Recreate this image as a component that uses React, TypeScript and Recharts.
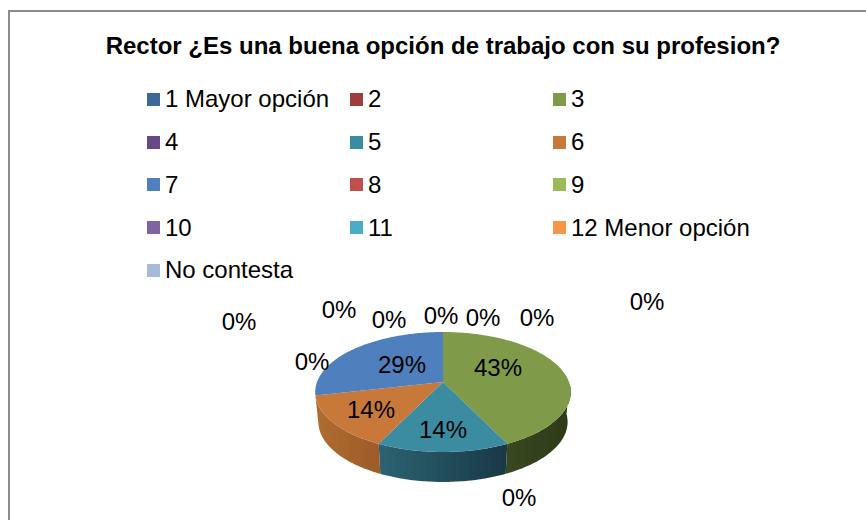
import { PieChart, Pie, Cell, Legend } from "recharts";

const NAMES = ["1 Mayor opción", "2", "3", "4", "5", "6", "7", "8", "9", "10", "11", "12 Menor opción", "No contesta"];
const VALUES = [0, 0, 3, 0, 1, 1, 2, 0, 0, 0, 0, 0, 0];
const COLORS = ["#3f6797", "#9e3d3a", "#7f9a48", "#664a83", "#3b8ba1", "#c8793a", "#4f7fbc", "#c0504d", "#9bbb59", "#8064a2", "#4bacc6", "#f79646", "#a9b9d8"];
const TITLE = "Rector ¿Es una buena opción de trabajo con su profesion?";

// side wall shading, left to right
const WALLS: Record<string, [string, string]> = {
  "#7f9a48": ["#38481f", "#2d3a18"],
  "#3b8ba1": ["#2b6373", "#193844"],
  "#c8793a": ["#b06c30", "#9c5b28"],
};
// hand placed in the original, so kept by slice
const LABEL_SPOTS = [
  [537, 317], [647, 301], [498, 367], [519, 497], [443, 429], [371, 409], [402, 364],
  [483, 317], [441, 315], [389, 319], [339, 309], [312, 361], [239, 321],
];

const FONT = "'Liberation Sans', Arial, sans-serif";
const data = NAMES.map((name, i) => ({ name, value: VALUES[i] }));

// fake 3D: project the flat pie circle onto a tilted disc
const SQUASH = 58.3, PERSP = 1 / 6, DEPTH = 30;
const project = (cx: number, cy: number, r: number, deg: number, f = 1): [number, number] => {
  const a = (deg * Math.PI) / 180;
  const X = Math.cos(a) * f, Z = -Math.sin(a) * f;
  const w = 1 - PERSP * Z;
  return [cx + (r * X) / w, cy + (SQUASH * Z) / w];
};
const arc = (cx: number, cy: number, r: number, from: number, to: number) => {
  const pts: [number, number][] = [];
  const n = Math.max(1, Math.ceil(Math.abs(from - to)));
  for (let i = 0; i <= n; i++) pts.push(project(cx, cy, r, from + ((to - from) * i) / n));
  return pts;
};
const toPath = (pts: [number, number][]) => pts.map((p, i) => (i ? "L" : "M") + p[0].toFixed(1) + " " + p[1].toFixed(1)).join(" ");

function Slice3D(props: any) {
  const { cx, cy, outerRadius: r, startAngle, endAngle, fill } = props;
  if (Math.abs(startAngle - endAngle) < 0.01) return <g />;
  const rim = arc(cx, cy, r, startAngle, endAngle);
  const top = toPath([[cx, cy], ...rim]) + " Z";
  // only the front of the disc shows a wall (-2 to -168 degrees)
  const from = Math.min(startAngle, -2), to = Math.max(endAngle, -168);
  let wall = null;
  if (from > to && WALLS[fill]) {
    const upper = arc(cx, cy, r, from, to);
    const lower = upper.map(([x, y]) => [cx + (x - cx) * 0.975, y + DEPTH] as [number, number]).reverse();
    const id = "wall" + fill.slice(1);
    wall = (
      <>
        <defs>
          <linearGradient id={id}>
            <stop offset="0%" stopColor={WALLS[fill][0]} />
            <stop offset="100%" stopColor={WALLS[fill][1]} />
          </linearGradient>
        </defs>
        <path d={toPath([...upper, ...lower]) + " Z"} fill={`url(#${id})`} />
      </>
    );
  }
  return (
    <g>
      {wall}
      <path d={top} fill={fill} />
    </g>
  );
}

function PctLabel({ index, percent }: any) {
  const [x, y] = LABEL_SPOTS[index];
  return (
    <text x={x} y={y} textAnchor="middle" dominantBaseline="central" fontSize={24} fontFamily={FONT} fill="#000">
      {Math.round(percent * 100) + "%"}
    </text>
  );
}

function LegendGrid({ payload }: any) {
  return (
    <div style={{ display: "grid", gridTemplateColumns: "203px 203px 203px", gridAutoRows: "42.75px", fontFamily: FONT, fontSize: 24, color: "#000" }}>
      {(payload || []).map((p: any) => (
        <div key={p.value} style={{ display: "flex", alignItems: "center", whiteSpace: "nowrap" }}>
          <span style={{ width: 13, height: 13, background: p.color, marginRight: 5, flex: "none" }} />
          {p.value}
        </div>
      ))}
    </div>
  );
}

export default function App() {
  return (
    <div style={{ position: "absolute", left: 0, top: 0, width: 866, height: 520, overflow: "hidden", background: "#fff" }}>
      <div style={{ position: "absolute", left: 8, top: 10, width: 858, height: 510, borderTop: "2px solid #8c8c8c", borderLeft: "2px solid #8c8c8c", boxSizing: "border-box" }} />
      <div style={{ position: "absolute", left: 0, top: 0 }}>
        <PieChart width={866} height={520} margin={{ top: 0, right: 0, bottom: 0, left: 0 }}>
          <text x={443} y={45} textAnchor="middle" dominantBaseline="central" fontSize={24} fontWeight="bold" fontFamily={FONT} fill="#000">
            {TITLE}
          </text>
          <Legend content={LegendGrid} itemSorter={null} wrapperStyle={{ left: 147, top: 78, width: 640, bottom: "auto" }} />
          <Pie
            data={data}
            dataKey="value"
            nameKey="name"
            cx={443}
            cy={382}
            outerRadius={126}
            startAngle={90}
            endAngle={-270}
            stroke="none"
            shape={Slice3D}
            label={PctLabel}
            labelLine={false}
            isAnimationActive={false}
          >
            {data.map((d, i) => (
              <Cell key={d.name} fill={COLORS[i]} />
            ))}
          </Pie>
        </PieChart>
      </div>
    </div>
  );
}
